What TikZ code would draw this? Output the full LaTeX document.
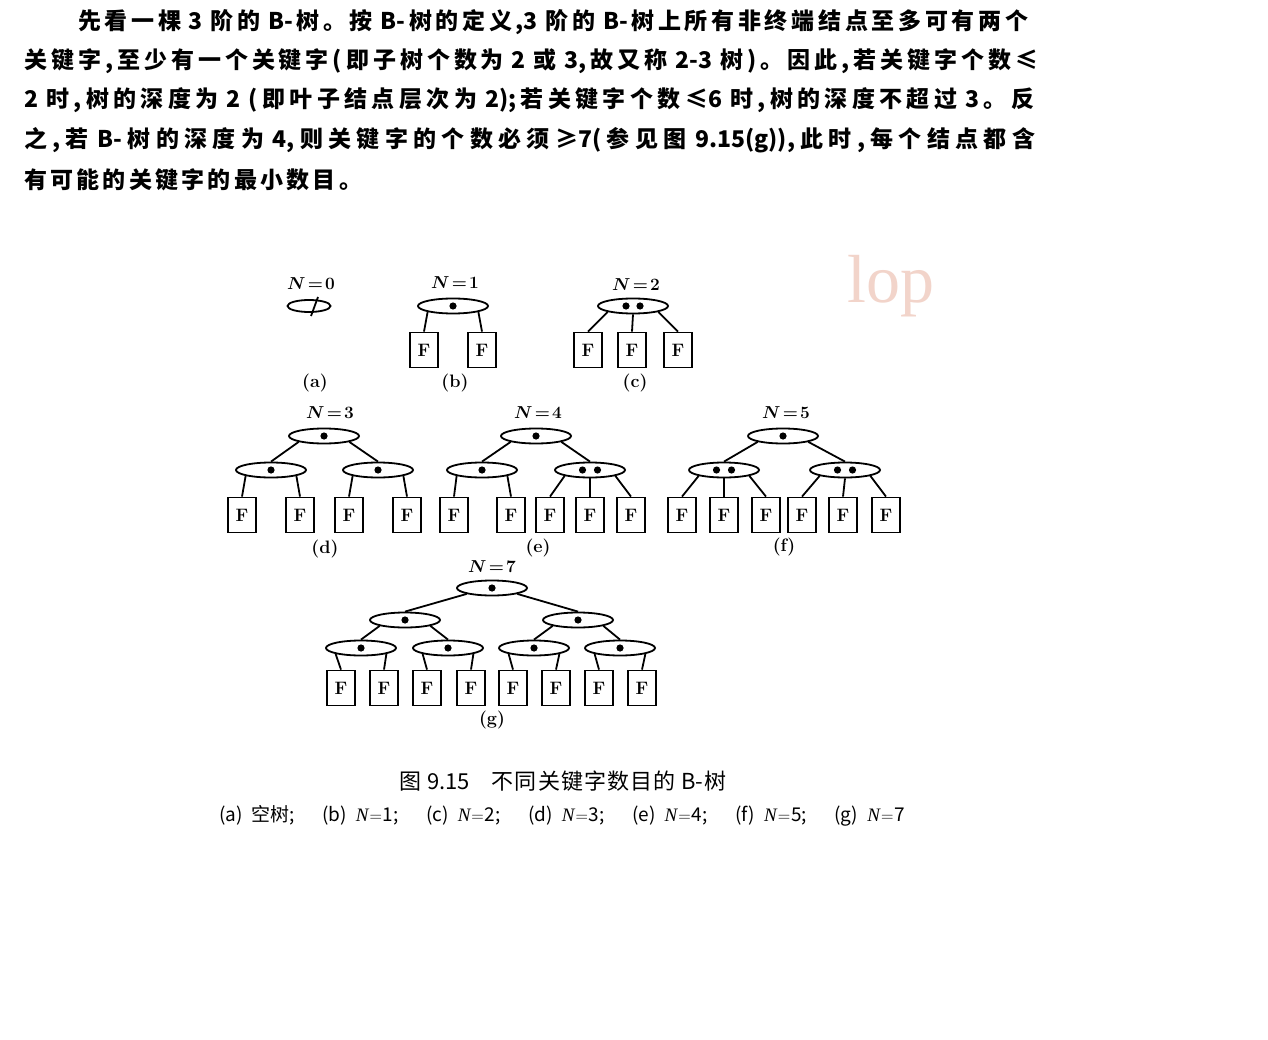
\documentclass[tikz,border=0pt]{standalone}
\usepackage{fontspec}
\usetikzlibrary{shapes.geometric}
\newfontfamily\cjk{Noto Sans CJK SC}
\newfontfamily\lser{Liberation Serif}
% stretchable glue between CJK characters so that lines can be justified
\XeTeXinterchartokenstate=1
\newXeTeXintercharclass\CJKcls
\makeatletter
\def\cjkrange#1#2{\count@=#1\relax\loop\XeTeXcharclass\count@=\CJKcls\relax\ifnum\count@<#2\relax\advance\count@\@ne\repeat}
\makeatother
\cjkrange{"3000}{"303F}
\cjkrange{"4E00}{"9FFF}
\cjkrange{"FF00}{"FFEF}
\XeTeXinterchartoks\CJKcls\CJKcls={\hskip0pt plus 4pt\relax}
\XeTeXinterchartoks 0 \CJKcls={\hskip0pt plus 4pt\relax}
\XeTeXinterchartoks\CJKcls 0 ={\hskip0pt plus 4pt\relax}
\newcommand\itN{{\lser\itshape N}}
% one entry of the sub-caption list: (x) N=k
\newcommand\capN[2]{(#1)\hskip 9pt\itN\hskip1pt$=$\hskip1pt#2}
\newcommand\kdot[2]{\fill ([xshift=#2]#1.center) circle (3.6pt);}
\newcommand\Nlab[1]{$N\mkern-3mu=\mkern-3mu#1$}
\definecolor{wmark}{RGB}{242,212,202}
\tikzset{
  body/.style={anchor=west, inner sep=0pt, font=\cjk\bfseries\fontsize{23}{23}\selectfont},
  kn/.style={draw, ellipse, line width=1.8pt, minimum width=70pt, minimum height=15pt, inner sep=0pt},
  lf/.style={draw, rectangle, line width=1.8pt, minimum width=28pt, minimum height=35pt, inner sep=0pt,
             font=\bfseries\fontsize{18}{18}\selectfont},
  br/.style={line width=1.8pt},
  nlab/.style={font=\fontsize{18}{18}\selectfont\boldmath, inner sep=0pt},
  sub/.style={font=\bfseries\fontsize{18}{18}\selectfont, inner sep=0pt},
}
\begin{document}
\begin{tikzpicture}[x=1pt,y=-1pt]
\fill[white] (0,0) rectangle (1268,1040);
\useasboundingbox (0,0) rectangle (1268,1040);

% paragraph above the figure
\node[body] (p1) at (78,22) {\hbox to 950pt{先看一棵 3 阶的 B-树。按 B-树的定义,3 阶的 B-树上所有非终端结点至多可有两个}};
\node[body] (p2) at (24,61) {\hbox to 1014pt{关键字,至少有一个关键字(即子树个数为 2 或 3,故又称 2-3 树)。因此,若关键字个数≤}};
\node[body] (p3) at (24,100) {\hbox to 1010pt{2 时,树的深度为 2 (即叶子结点层次为 2);若关键字个数≤6 时,树的深度不超过 3。反}};
\node[body] (p4) at (24,140) {\hbox to 1011pt{之,若 B-树的深度为 4,则关键字的个数必须≥7(参见图 9.15(g)),此时,每个结点都含}};
\node[body] (p5) at (24,180) {\hbox to 338pt{有可能的关键字的最小数目。}};

% faint mark
\node[anchor=base west, inner sep=0pt, text=wmark, font=\lser\fontsize{68}{68}\selectfont] (wm) at (847,303) {lop};

% (a) empty tree
\node[nlab] (na) at (311,284) {\Nlab{0}};
\node[draw, ellipse, line width=1.8pt, minimum width=43pt, minimum height=12pt, inner sep=0pt] (a0) at (309,306) {};
\coordinate (as1) at (318,297);
\coordinate (as2) at (311,316);
\draw[br] (as1) -- (as2);
\node[sub] (la) at (315,383) {(a)};

% (b) N=1
\node[nlab] (nb) at (455,283) {\Nlab{1}};
\node[kn] (b0) at (453,306) {};
\kdot{b0}{0pt}
\node[lf] (b1) at (424,350) {F};
\node[lf] (b2) at (482,350) {F};
\draw[br] (b0.south west) -- (b1.north);
\draw[br] (b0.south east) -- (b2.north);
\node[sub] (lb) at (455,383) {(b)};

% (c) N=2
\node[nlab] (nc) at (636,285) {\Nlab{2}};
\node[kn] (c0) at (633,306) {};
\kdot{c0}{-7pt}\kdot{c0}{7pt}
\node[lf] (c1) at (588,350) {F};
\node[lf] (c2) at (632,350) {F};
\node[lf] (c3) at (678,350) {F};
\draw[br] (c0.south west) -- (c1.north);
\draw[br] (c0.south) -- (c2.north);
\draw[br] (c0.south east) -- (c3.north);
\node[sub] (lc) at (635,383) {(c)};

% (d) N=3
\node[nlab] (nd) at (330,413) {\Nlab{3}};
\node[kn] (d0) at (324,436) {};
\kdot{d0}{0pt}
\node[kn] (d1) at (271,470) {};
\kdot{d1}{0pt}
\node[kn] (d2) at (378,470) {};
\kdot{d2}{0pt}
\node[lf] (d3) at (242,515) {F};
\node[lf] (d4) at (300,515) {F};
\node[lf] (d5) at (349,515) {F};
\node[lf] (d6) at (407,515) {F};
\draw[br] (d0.south west) -- (d1.north);
\draw[br] (d0.south east) -- (d2.north);
\draw[br] (d1.south west) -- (d3.north);
\draw[br] (d1.south east) -- (d4.north);
\draw[br] (d2.south west) -- (d5.north);
\draw[br] (d2.south east) -- (d6.north);
\node[sub] (ld) at (325,549) {(d)};

% (e) N=4
\node[nlab] (ne) at (538,413) {\Nlab{4}};
\node[kn] (e0) at (536,436) {};
\kdot{e0}{0pt}
\node[kn] (e1) at (482,470) {};
\kdot{e1}{0pt}
\node[kn] (e2) at (590,470) {};
\kdot{e2}{-7.5pt}\kdot{e2}{7.5pt}
\node[lf] (e3) at (454,515) {F};
\node[lf] (e4) at (511,515) {F};
\node[lf] (e5) at (550,515) {F};
\node[lf] (e6) at (590,515) {F};
\node[lf] (e7) at (631,515) {F};
\draw[br] (e0.south west) -- (e1.north);
\draw[br] (e0.south east) -- (e2.north);
\draw[br] (e1.south west) -- (e3.north);
\draw[br] (e1.south east) -- (e4.north);
\draw[br] (e2.south west) -- (e5.north);
\draw[br] (e2.south) -- (e6.north);
\draw[br] (e2.south east) -- (e7.north);
\node[sub] (le) at (538,548) {(e)};

% (f) N=5
\node[nlab] (nf) at (786,413) {\Nlab{5}};
\node[kn] (f0) at (783,436) {};
\kdot{f0}{0pt}
\node[kn] (f1) at (724,470) {};
\kdot{f1}{-7.5pt}\kdot{f1}{7.5pt}
\node[kn] (f2) at (845,470) {};
\kdot{f2}{-7.5pt}\kdot{f2}{7.5pt}
\node[lf] (f3) at (682,515) {F};
\node[lf] (f4) at (724,515) {F};
\node[lf] (f5) at (766,515) {F};
\node[lf] (f6) at (802,515) {F};
\node[lf] (f7) at (843,515) {F};
\node[lf] (f8) at (886,515) {F};
\draw[br] (f0.south west) -- (f1.north);
\draw[br] (f0.south east) -- (f2.north);
\draw[br] (f1.south west) -- (f3.north);
\draw[br] (f1.south) -- (f4.north);
\draw[br] (f1.south east) -- (f5.north);
\draw[br] (f2.south west) -- (f6.north);
\draw[br] (f2.south) -- (f7.north);
\draw[br] (f2.south east) -- (f8.north);
\node[sub] (lf) at (784,547) {(f)};

% (g) N=7
\node[nlab] (ng) at (492,567) {\Nlab{7}};
\node[kn] (g0) at (492,588) {};
\kdot{g0}{0pt}
\node[kn] (g1) at (405,620) {};
\kdot{g1}{0pt}
\node[kn] (g2) at (578,620) {};
\kdot{g2}{0pt}
\node[kn] (g3) at (361,648) {};
\kdot{g3}{0pt}
\node[kn] (g4) at (448,648) {};
\kdot{g4}{0pt}
\node[kn] (g5) at (534,648) {};
\kdot{g5}{0pt}
\node[kn] (g6) at (620,648) {};
\kdot{g6}{0pt}
\node[lf] (h1) at (341,688) {F};
\node[lf] (h2) at (384,688) {F};
\node[lf] (h3) at (427,688) {F};
\node[lf] (h4) at (471,688) {F};
\node[lf] (h5) at (513,688) {F};
\node[lf] (h6) at (556,688) {F};
\node[lf] (h7) at (599,688) {F};
\node[lf] (h8) at (642,688) {F};
\draw[br] (g0.south west) -- (g1.north);
\draw[br] (g0.south east) -- (g2.north);
\draw[br] (g1.south west) -- (g3.north);
\draw[br] (g1.south east) -- (g4.north);
\draw[br] (g2.south west) -- (g5.north);
\draw[br] (g2.south east) -- (g6.north);
\draw[br] (g3.south west) -- (h1.north);
\draw[br] (g3.south east) -- (h2.north);
\draw[br] (g4.south west) -- (h3.north);
\draw[br] (g4.south east) -- (h4.north);
\draw[br] (g5.south west) -- (h5.north);
\draw[br] (g5.south east) -- (h6.north);
\draw[br] (g6.south west) -- (h7.north);
\draw[br] (g6.south east) -- (h8.north);
\node[sub] (lg) at (492,720) {(g)};

% figure caption
\node[inner sep=0pt, font=\cjk\fontsize{22}{22}\selectfont] (cap1) at (563,781) {\hbox to 327pt{图 9.15\quad 不同关键字数目的 B-树}};
\node[inner sep=0pt, font=\cjk\fontsize{19}{19}\selectfont] (cap2) at (562,816) {\hbox to 686pt{(a)\hskip 9pt 空树;\hfill\capN{b}{1};\hfill\capN{c}{2};\hfill\capN{d}{3};\hfill\capN{e}{4};\hfill\capN{f}{5};\hfill\capN{g}{7}}};
\end{tikzpicture}
\end{document}
